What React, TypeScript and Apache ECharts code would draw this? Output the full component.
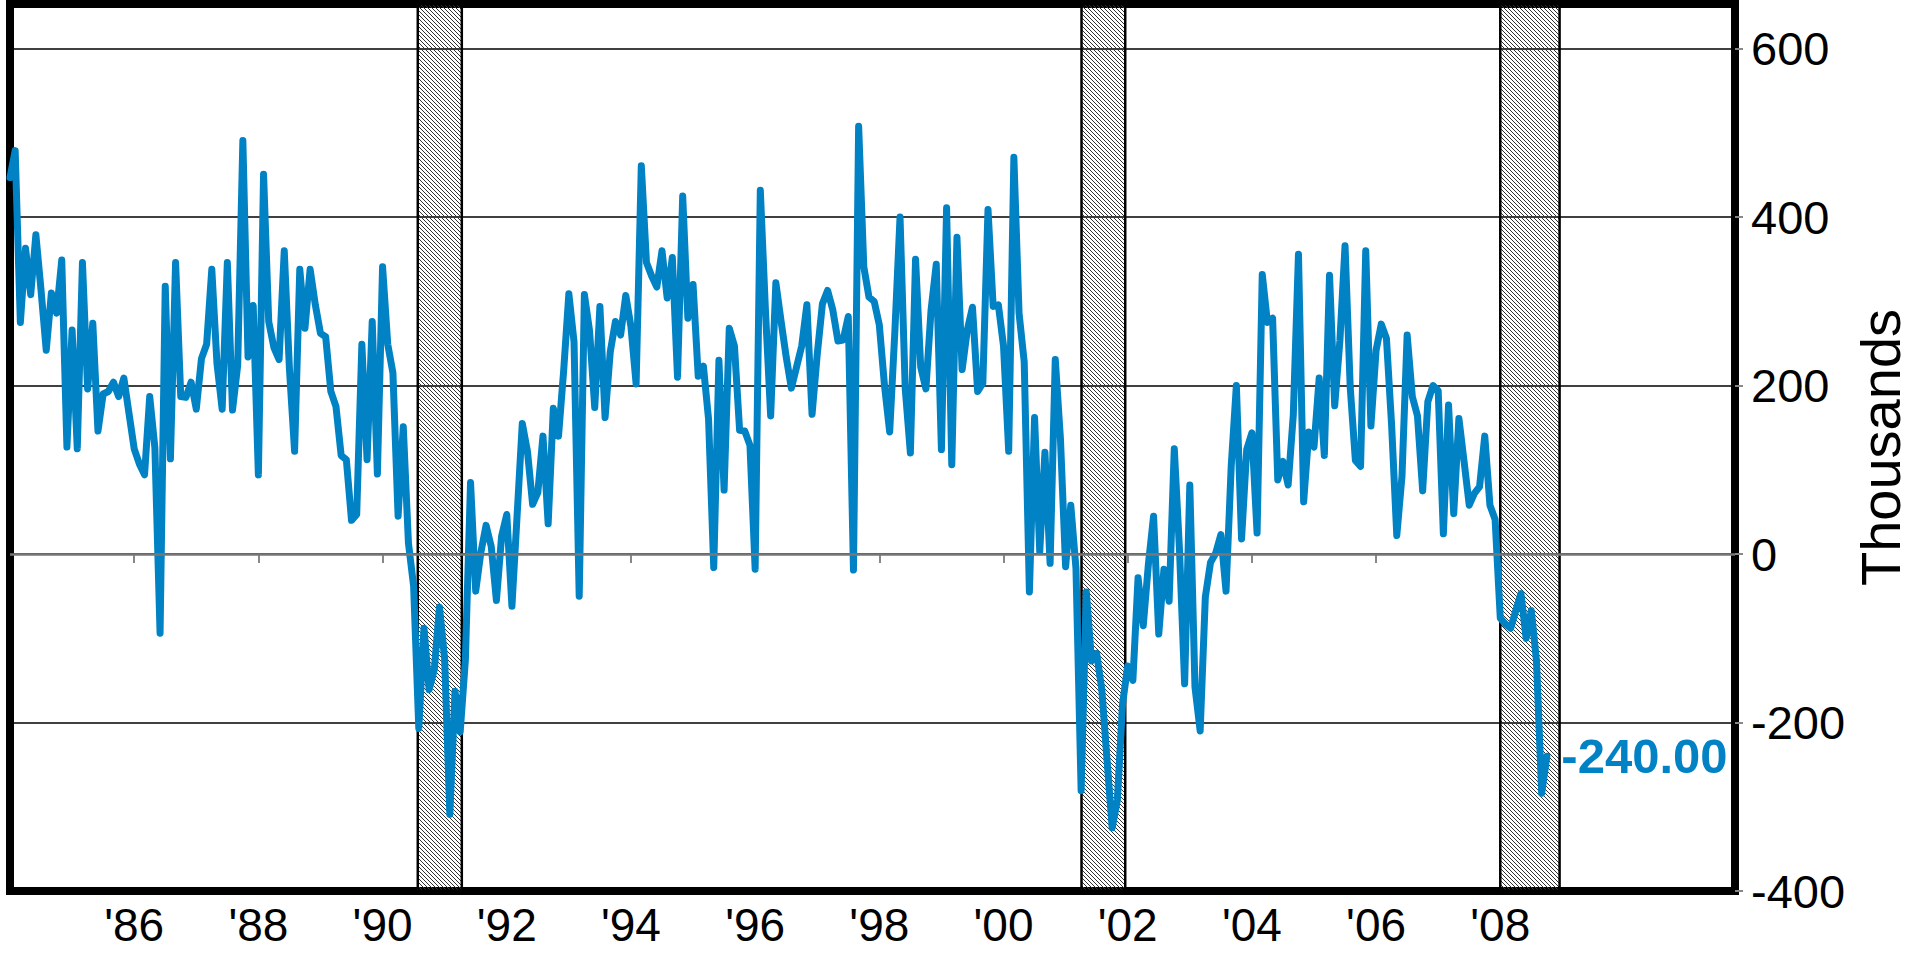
import React, { useEffect, useRef } from "react";
import * as echarts from "echarts";

// Monthly change in nonfarm payrolls (thousands), Jan 1984 – Oct 2008
const startYear = 1984;
const monthlyChange: number[] = [
  // 1984
  447, 479, 275, 363, 308, 379, 313, 242, 310, 286, 349, 127,
  // 1985
  266, 125, 346, 196, 274, 146, 190, 193, 204, 187, 209, 167,
  // 1986
  125, 107, 94, 187, 126, -94, 318, 113, 346, 187, 186, 204,
  // 1987
  172, 232, 249, 338, 226, 172, 346, 171, 224, 491, 234, 295,
  // 1988
  94, 451, 276, 245, 231, 360, 220, 122, 338, 268, 338, 296,
  // 1989
  262, 258, 193, 175, 117, 112, 40, 47, 249, 112, 276, 95,
  // 1990
  341, 249, 215, 45, 151, 13, -38, -207, -88, -161, -137, -63,
  // 1991
  -125, -309, -163, -211, -126, 85, -44, 2, 34, 9, -55, 21,
  // 1992
  47, -62, 46, 155, 122, 59, 73, 140, 36, 173, 140, 218,
  // 1993
  309, 252, -50, 308, 265, 174, 294, 162, 240, 276, 260, 307,
  // 1994
  270, 202, 461, 346, 330, 317, 360, 304, 352, 210, 425, 280,
  // 1995
  320, 211, 223, 160, -16, 230, 76, 268, 247, 147, 146, 129,
  // 1996
  -18, 432, 288, 164, 322, 277, 234, 197, 222, 247, 296, 166,
  // 1997
  237, 297, 313, 290, 253, 254, 282, -19, 508, 341, 305, 300,
  // 1998
  272, 200, 145, 264, 400, 197, 120, 350, 222, 196, 290, 344,
  // 1999
  124, 411, 106, 376, 219, 266, 293, 193, 203, 409, 294, 296,
  // 2000
  247, 122, 471, 286, 228, -45, 162, 3, 121, -11, 231, 137,
  // 2001
  -15, 58, -17, -281, -45, -127, -118, -161, -244, -325, -292, -178,
  // 2002
  -133, -150, -28, -85, -12, 45, -95, -18, -56, 125, 6, -154,
  // 2003
  82, -158, -210, -51, -10, 1, 23, -44, 104, 200, 18, 124,
  // 2004
  144, 25, 332, 275, 280, 88, 110, 82, 165, 356, 62, 145,
  // 2005
  127, 209, 117, 331, 176, 253, 366, 198, 111, 104, 360, 152,
  // 2006
  242, 273, 256, 153, 22, 92, 260, 187, 164, 75, 181, 200,
  // 2007
  194, 24, 177, 48, 161, 110, 58, 72, 80, 140, 58, 41,
  // 2008
  -76, -83, -88, -67, -47, -100, -67, -127, -284, -240,
];

// Recession periods (decimal years)
const recessionStarts = [1990.567, 2001.256, 2008.0];
const recessionEnds = [1991.276, 2001.96, 2008.955];

const xTickYears = [1986, 1988, 1990, 1992, 1994, 1996, 1998, 2000, 2002, 2004, 2006, 2008];
const yTickValues = [-400, -200, 0, 200, 400, 600];

const FONT = '"Liberation Sans", Arial, Helvetica, sans-serif';
const BLUE = "#0082C4";

export default function App() {
  const ref = useRef<HTMLDivElement>(null);

  useEffect(() => {
    document.body.style.margin = "0";
    if (!ref.current) return;
    const chart = echarts.init(ref.current, undefined, { renderer: "svg" });

    // hatch pattern
    const c = document.createElement("canvas");
    c.width = 4;
    c.height = 4;
    const ctx = c.getContext("2d")!;
    ctx.fillStyle = "#333";
    for (let i = 0; i < 4; i++) ctx.fillRect(i, i, 1, 1);
    const hatch: any = { image: c, repeat: "repeat" };

    const seriesData = monthlyChange.map((v, i) => [startYear + i / 12, v]);
    const last = seriesData[seriesData.length - 1];

    const option: any = {
      animation: false,
      backgroundColor: "#fff",
      grid: {
        left: 10,
        right: 177,
        top: 4,
        bottom: 65,
        containLabel: false,
        outerBoundsMode: "none",
        show: true,
        borderColor: "#000",
        borderWidth: 8,
        backgroundColor: "transparent",
      },
      xAxis: {
        type: "value",
        min: 1984,
        max: 2011.78,
        interval: 2,
        splitLine: { show: false },
        axisLine: { show: false },
        axisTick: {
          show: true,
          customValues: xTickYears,
          length: 9,
          lineStyle: { color: "#888", width: 2 },
        },
        axisLabel: {
          customValues: xTickYears,
          formatter: (v: number) => "'" + String(Math.round(v)).slice(2),
          fontSize: 46,
          fontFamily: FONT,
          color: "#000",
          margin: 11,
        },
      },
      yAxis: {
        type: "value",
        position: "right",
        min: -400,
        max: 653,
        interval: 200,
        axisLine: { show: false },
        axisTick: {
          show: true,
          customValues: yTickValues,
          length: 8,
          lineStyle: { color: "#888", width: 2 },
        },
        axisLabel: {
          customValues: yTickValues,
          fontSize: 47,
          fontFamily: FONT,
          color: "#000",
          margin: 16,
        },
        splitLine: { show: true, lineStyle: { color: "#000", width: 1.5 } },
        name: "Thousands",
        nameLocation: "middle",
        nameRotate: 90,
        nameGap: 117,
        nameMoveOverlap: false,
        nameTextStyle: { fontSize: 56, fontFamily: FONT, color: "#000" },
      },
      series: [
        {
          type: "line",
          z: 1,
          data: [],
          silent: true,
          markArea: {
            silent: true,
            itemStyle: { color: hatch, borderColor: "#000", borderWidth: 2.5 },
            data: recessionStarts.map((s, i) => [{ xAxis: s }, { xAxis: recessionEnds[i] }]),
          },
          markLine: {
            silent: true,
            symbol: "none",
            label: { show: false },
            lineStyle: { color: "#777", width: 2.5, type: "solid" },
            data: [{ yAxis: 0 }],
          },
        },
        {
          type: "line",
          z: 3,
          data: seriesData,
          showSymbol: false,
          lineStyle: { color: BLUE, width: 7, cap: "round", join: "round" },
          itemStyle: { color: BLUE },
          markPoint: {
            silent: true,
            symbol: "circle",
            symbolSize: 1,
            itemStyle: { color: "rgba(0,0,0,0)" },
            label: {
              show: true,
              position: "right",
              distance: 14,
              formatter: () => (last[1] as number).toFixed(2),
              color: BLUE,
              fontWeight: "bold",
              fontSize: 49,
              fontFamily: FONT,
            },
            data: [{ coord: last, value: last[1] }],
          },
        },
      ],
    };
    chart.setOption(option);
    return () => chart.dispose();
  }, []);

  return (
    <div
      ref={ref}
      style={{ position: "absolute", left: 0, top: 0, width: 1912, height: 956 }}
    />
  );
}
